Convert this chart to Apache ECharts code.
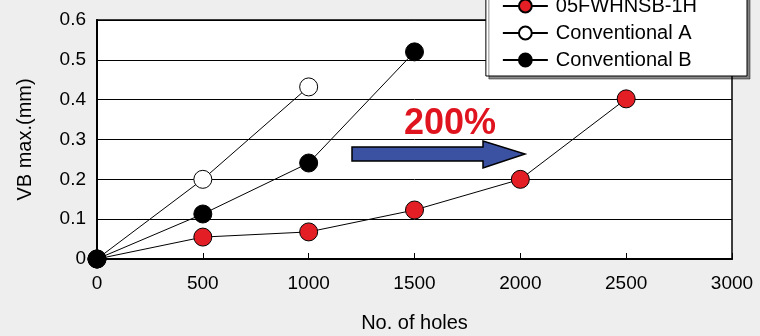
<!DOCTYPE html>
<html>
<head>
    <meta charset="utf-8">
    <script type="text/javascript" src="https://cdn.jsdelivr.net/npm/echarts@6/dist/echarts.min.js"></script>
    <title>VB max</title>
</head>
<body style="margin:0;background:#eeeeee;">
    <div id="container" style="width:760px;height:336px;"></div>
    <script type="text/javascript">
    // data
    var holes = [0, 500, 1000, 1500, 2000, 2500];
    var newTool = [0, 0.055, 0.068, 0.123, 0.2, 0.402];
    var convA = [0, 0.2, 0.432];
    var convB = [0, 0.113, 0.241, 0.52];
    var seriesNames = ['05FWHNSB-1H', 'Conventional A', 'Conventional B'];

    function pairs(ys) {
        return ys.map(function (y, i) { return [holes[i], y]; });
    }

    var myChart = echarts.init(document.getElementById('container'));

    var font = '"Liberation Sans", Arial, sans-serif';

    function lineSeries(name, ys, fill) {
        return {
            name: name,
            type: 'line',
            data: pairs(ys),
            symbol: 'circle',
            symbolSize: 18,
            lineStyle: { color: '#000', width: 1 },
            itemStyle: { color: fill, borderColor: '#000', borderWidth: 1 },
            emphasis: { disabled: true },
            animation: false
        };
    }

    var option = {
        backgroundColor: '#eeeeee',
        grid: {
            left: 97, right: 28, top: 20, bottom: 77,
            outerBoundsMode: 'none',
            show: true, backgroundColor: '#fff',
            borderColor: '#000', borderWidth: 1.5
        },
        legend: {
            orient: 'vertical',
            right: 13,
            top: -10,
            padding: [5, 50, 5, 16],
            itemGap: 5,
            itemWidth: 45,
            itemHeight: 16,
            backgroundColor: '#fff',
            borderColor: '#000',
            borderWidth: 1,
            shadowColor: 'rgba(0,0,0,0.45)',
            shadowBlur: 0,
            shadowOffsetX: 3,
            shadowOffsetY: 3,
            data: seriesNames,
            textStyle: { fontFamily: font, fontSize: 20, color: '#000', lineHeight: 22, padding: [0, 0, 0, 3] }
        },
        xAxis: {
            type: 'value',
            min: 0, max: 3000, interval: 500,
            name: 'No. of holes',
            nameLocation: 'middle',
            nameGap: 54,
            nameTextStyle: { fontFamily: font, fontSize: 20, color: '#000' },
            axisLine: { lineStyle: { color: '#000', width: 2 } },
            axisTick: { inside: true, length: 6, lineStyle: { color: '#000', width: 1 } },
            axisLabel: {
                fontFamily: font, fontSize: 19, color: '#000', margin: 15,
                formatter: function (v) { return String(v); }
            },
            splitLine: { show: false }
        },
        yAxis: {
            type: 'value',
            min: 0, max: 0.6, interval: 0.1,
            name: 'VB max.(mm)',
            nameLocation: 'middle',
            nameGap: 62,
            nameTextStyle: { fontFamily: font, fontSize: 20, color: '#000' },
            axisLine: { show: true, lineStyle: { color: '#000', width: 2 } },
            axisTick: { show: false },
            axisLabel: { fontFamily: font, fontSize: 19, color: '#000', margin: 11 },
            splitLine: { lineStyle: { color: '#000', width: 1 } }
        },
        graphic: [
            {
                type: 'polygon',
                shape: { points: [[352, 147], [483, 147], [483, 141], [525, 154], [483, 168], [483, 161], [352, 161]] },
                style: { fill: '#3b52a3', stroke: '#000', lineWidth: 1.5 },
                z: 10
            },
            {
                type: 'text',
                x: 450, y: 124,
                style: {
                    text: '200%', fill: '#e0141e', fontFamily: font, fontWeight: 'bold', fontSize: 36,
                    align: 'center', verticalAlign: 'middle'
                },
                z: 10
            }
        ],
        series: [
            lineSeries(seriesNames[0], newTool, '#e31e24'),
            lineSeries(seriesNames[1], convA, '#fff'),
            lineSeries(seriesNames[2], convB, '#000')
        ]
    };

    myChart.setOption(option);
    </script>
</body>
</html>
